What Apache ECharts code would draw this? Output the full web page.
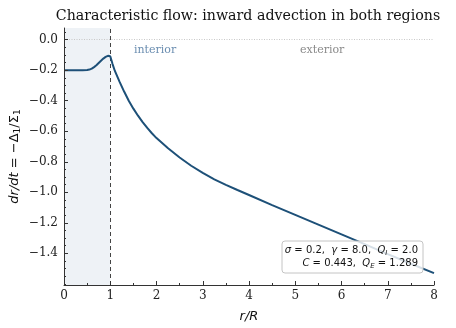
<!DOCTYPE html>
<html>
<head>
<meta charset="utf-8">
<script src="https://cdn.jsdelivr.net/npm/echarts@6/dist/echarts.min.js"></script>
<style>
  html, body { margin: 0; padding: 0; background: #fff; }
  #chart { width: 456px; height: 328px; }
</style>
</head>
<body>
<div id="chart"></div>
<script>
// r/R positions and dr/dt values
var rValues = [0, 0.1, 0.2, 0.3, 0.4, 0.5, 0.55, 0.6, 0.65, 0.7, 0.75, 0.8, 0.85, 0.9, 0.95, 0.98,
  1.0, 1.05, 1.1, 1.2, 1.3, 1.4, 1.5, 1.6, 1.7, 1.8, 1.9, 2.0, 2.25, 2.5, 2.75, 3.0,
  3.25, 3.5, 3.75, 4.0, 4.5, 5.0, 5.5, 6.0, 6.5, 7.0, 7.5, 8.0]
var speedValues = [-0.2, -0.2, -0.2, -0.2, -0.2, -0.199, -0.196, -0.19, -0.18, -0.168, -0.153, -0.138, -0.124, -0.113, -0.106, -0.104,
  -0.108, -0.16, -0.205, -0.275, -0.34, -0.4, -0.452, -0.498, -0.54, -0.578, -0.613, -0.645, -0.712, -0.772, -0.826, -0.873,
  -0.915, -0.951, -0.985, -1.018, -1.084, -1.148, -1.212, -1.276, -1.34, -1.405, -1.468, -1.53]

var xTicks = [0, 1, 2, 3, 4, 5, 6, 7, 8]
var yTicks = [0, -0.2, -0.4, -0.6, -0.8, -1.0, -1.2, -1.4]
var yMinorTicks = [0.05, -0.05, -0.1, -0.15, -0.25, -0.3, -0.35, -0.45, -0.5, -0.55, -0.65, -0.7, -0.75,
  -0.85, -0.9, -0.95, -1.05, -1.1, -1.15, -1.25, -1.3, -1.35, -1.45, -1.5, -1.55, -1.6]

var interfaceR = 1
var yLimits = [-1.6075, 0.0765]

var serif = 'DejaVu Serif'
var sans = 'DejaVu Sans'
var ink = '#333'

var chart = echarts.init(document.getElementById('chart'))

var points = rValues.map(function (r, i) { return [r, speedValues[i]] })

function fmtTick (v) {
  var s = Math.abs(v).toFixed(1)
  return v < -1e-9 ? '\u2212' + s : s
}

var option = {
  animation: false,
  title: {
    text: 'Characteristic flow: inward advection in both regions',
    left: 243,
    top: 4,
    textAlign: 'center',
    textStyle: { fontFamily: serif, fontSize: 14.2, fontWeight: 'normal', color: '#111' }
  },
  grid: { left: 64, right: 22, top: 28, bottom: 43, outerBoundsMode: 'none' },
  xAxis: {
    type: 'value',
    z: 10,
    min: 0,
    max: 8,
    interval: 1,
    name: 'r/R',
    nameLocation: 'middle',
    nameGap: 25,
    nameTextStyle: { fontFamily: sans, fontStyle: 'italic', fontSize: 13, color: '#111' },
    axisLine: { onZero: false, lineStyle: { color: ink, width: 1 } },
    axisTick: { inside: true, length: 4, lineStyle: { color: ink } },
    minorTick: { show: true, splitNumber: 2, length: 2, lineStyle: { color: ink } },
    axisLabel: {
      fontFamily: serif, fontSize: 12, color: '#222', margin: 5,
      customValues: xTicks
    },
    splitLine: { show: false }
  },
  yAxis: [
    {
      type: 'value',
      z: 10,
      min: yLimits[0],
      max: yLimits[1],
      name: '{it|dr/dt} = \u2212\u0394{sub|1}/\u03a3{sub|1}',
      nameLocation: 'middle',
      nameGap: 42,
      nameMoveOverlap: false,
      nameTextStyle: {
        fontFamily: sans, fontSize: 13, color: '#111',
        rich: {
          it: { fontFamily: sans, fontStyle: 'italic', fontSize: 13, color: '#111' },
          sub: { fontFamily: sans, fontSize: 9, color: '#111', verticalAlign: 'bottom', padding: [6, 0, 0, 0] }
        }
      },
      axisLine: { show: true, onZero: false, lineStyle: { color: ink, width: 1 } },
      axisTick: { inside: true, length: 4, lineStyle: { color: ink }, customValues: yTicks },
      axisLabel: {
        fontFamily: serif, fontSize: 12, color: '#222', margin: 6,
        customValues: yTicks,
        formatter: fmtTick
      },
      splitLine: { show: false }
    },
    {
      // minor ticks only
      type: 'value',
      z: 10,
      min: yLimits[0],
      max: yLimits[1],
      position: 'left',
      axisLine: { show: false, onZero: false },
      axisTick: { inside: true, length: 2, lineStyle: { color: ink }, customValues: yMinorTicks },
      axisLabel: { show: false },
      splitLine: { show: false }
    }
  ],
  series: [
    {
      type: 'line',
      data: points,
      showSymbol: false,
      smooth: false,
      lineStyle: { color: '#1d5078', width: 2 },
      z: 5,
      markArea: {
        silent: true,
        itemStyle: { color: '#eef2f6' },
        data: [[{ xAxis: 0 }, { xAxis: interfaceR }]]
      },
      markLine: {
        silent: true,
        symbol: 'none',
        label: { show: false },
        data: [
          { xAxis: interfaceR, lineStyle: { color: '#444', type: [4, 3], width: 1 } },
          { yAxis: 0, lineStyle: { color: '#c8c8c8', type: [1, 1.5], width: 1 } }
        ]
      }
    }
  ],
  graphic: [
    {
      type: 'text', left: 134, top: 45, z: 10,
      style: { text: 'interior', font: '11px "DejaVu Serif"', fill: '#6a8db0' }
    },
    {
      type: 'text', left: 300, top: 45, z: 10,
      style: { text: 'exterior', font: '11px "DejaVu Serif"', fill: '#8a8a8a' }
    },
    {
      type: 'rect', z: 20,
      shape: { x: 282, y: 241, width: 141, height: 32, r: 3 },
      style: { fill: 'rgba(255,255,255,0.82)', stroke: '#c4c4c4', lineWidth: 1 }
    },
    {
      type: 'text', z: 21, x: 418, y: 244,
      style: {
        text: '{it|\u03c3} = 0.2,  {it|\u03b3} = 8.0,  {it|Q}{sub|I} = 2.0\n{it|C} = 0.443,  {it|Q}{sub|E} = 1.289',
        align: 'right',
        font: '10px "DejaVu Sans"',
        fill: '#111',
        lineHeight: 13,
        rich: {
          it: { fontStyle: 'italic', fontFamily: sans, fontSize: 10, fill: '#111' },
          sub: { fontStyle: 'italic', fontFamily: sans, fontSize: 7, fill: '#111', padding: [5, 0, 0, 0] }
        }
      }
    }
  ]
}

chart.setOption(option)
</script>
</body>
</html>
